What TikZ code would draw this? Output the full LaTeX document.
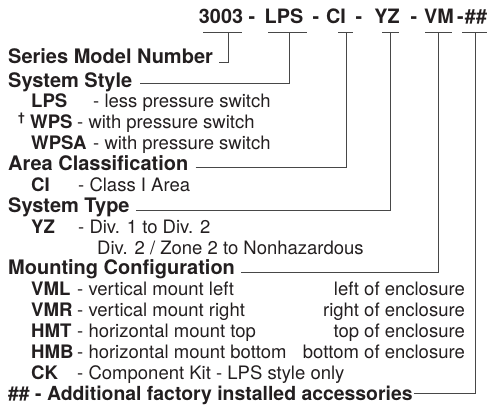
\documentclass[tikz,border=0pt]{standalone}
\usepackage{fontspec}
\setmainfont{TeX Gyre Heros}
\usetikzlibrary{calc}
\definecolor{ink}{HTML}{231F20}
\begin{document}
\begin{tikzpicture}[x=1pt,y=-1pt,
  hd/.style={anchor=base west,inner sep=0pt,text=ink,font=\fontsize{20}{22}\selectfont\bfseries},
  cd/.style={anchor=base west,inner sep=0pt,text=ink,font=\fontsize{18.6}{22}\selectfont\bfseries},
  ds/.style={anchor=base west,inner sep=0pt,text=ink,font=\fontsize{18.5}{22}\selectfont},
  rt/.style={anchor=base east,inner sep=0pt,text=ink,font=\fontsize{18.5}{22}\selectfont},
  topc/.style={anchor=base,inner sep=0pt,text=ink,font=\fontsize{19.8}{22}\selectfont\bfseries},
  conn/.style={draw=black!72,line width=0.9pt}]
\useasboundingbox (0,0) rectangle (487,407);

% top code line
\node[topc] (c3003) at (221,23) {3003};
\node[topc] (d1) at (252,23) {-};
\node[topc] (cLPS) at (284,23) {LPS};
\node[topc] (d2) at (316,23) {-};
\node[topc] (cCI) at (336,23) {CI};
\node[topc] (d3) at (359,23) {-};
\node[topc] (cYZ) at (387,23) {YZ};
\node[topc] (d4) at (414,23) {-};
\node[topc] (cVM) at (439,23) {VM};
\node[topc] (d5) at (460.5,23) {-};
\node[topc] (cHH) at (476,23) {\#\#};

% stem points
\coordinate (s3003) at (228,32);
\coordinate (sLPS) at (289,32);
\coordinate (sCI) at (346,32);
\coordinate (sYZ) at (390,32);
\coordinate (sVM) at (438,32);
\coordinate (sHH) at (475,32);

% underlines
\draw[conn] ($(s3003)+(-25,0)$) -- ($(s3003)+(14,0)$);
\draw[conn] ($(sLPS)+(-21,0)$) -- ($(sLPS)+(18,0)$);
\draw[conn] ($(sCI)+(-8,0)$) -- ($(sCI)+(7,0)$);
\draw[conn] ($(sYZ)+(-8,0)$) -- ($(sYZ)+(9,0)$);
\draw[conn] ($(sVM)+(-13,0)$) -- ($(sVM)+(14,0)$);
\draw[conn] ($(sHH)+(-13,0)$) -- ($(sHH)+(12,0)$);

% headings
\node[hd] (hSeries) at (8,63) {Series Model Number};
\node[hd] (hStyle) at (8,87) {System Style};
\node[hd] (hArea) at (8,170.5) {Area Classification};
\node[hd] (hType) at (8,212.2) {System Type};
\node[hd] (hMount) at (8,274.8) {Mounting Configuration};
\node[hd,font=\fontsize{19.4}{22}\selectfont\bfseries] (hAcc) at (8,400) {\#\# - Additional factory installed accessories};

% system style items
\node[cd] (kLPS) at (31,107.9) {LPS};
\node[ds] (tLPS) at (93,107.9) {- less pressure switch};
\node[anchor=base west,inner sep=0pt,text=ink,font=\fontsize{12}{14}\selectfont\bfseries] (dag) at (18,121) {†};
\node[cd] (kWPS) at (30,128.7) {WPS};
\node[ds] (tWPS) at (77,128.7) {- with pressure switch};
\node[cd] (kWPSA) at (31,149.6) {WPSA};
\node[ds] (tWPSA) at (93,149.6) {- with pressure switch};

% area
\node[cd] (kCI) at (31,191.4) {CI};
\node[ds] (tCI) at (78,191.4) {- Class I Area};

% system type
\node[cd] (kYZ) at (31,233.1) {YZ};
\node[ds] (tYZ) at (78,233.1) {- Div. 1 to Div. 2};
\node[ds] (tYZb) at (97,254) {Div. 2 / Zone 2 to Nonhazardous};

% mounting
\node[cd] (kVML) at (31,295.7) {VML};
\node[ds] (tVML) at (77,295.7) {- vertical mount left};
\node[rt] (rVML) at (465,295.7) {left of enclosure};
\node[cd] (kVMR) at (31,316.6) {VMR};
\node[ds] (tVMR) at (77,316.6) {- vertical mount right};
\node[rt] (rVMR) at (465,316.6) {right of enclosure};
\node[cd] (kHMT) at (31,337.4) {HMT};
\node[ds] (tHMT) at (77,337.4) {- horizontal mount top};
\node[rt] (rHMT) at (465,337.4) {top of enclosure};
\node[cd] (kHMB) at (31,358.3) {HMB};
\node[ds] (tHMB) at (77,358.3) {- horizontal mount bottom};
\node[rt] (rHMB) at (465,358.3) {bottom of enclosure};
\node[cd] (kCK) at (31,379.2) {CK};
\node[ds] (tCK) at (77,379.2) {- Component Kit - LPS style only};

% connectors
\draw[conn] ($(hSeries.base east)+(6,-1)$) -| (s3003);
\draw[conn] ($(hStyle.base east)+(8,-4)$) -| (sLPS);
\draw[conn] ($(hArea.base east)+(7,-3.5)$) -| (sCI);
\draw[conn] ($(hType.base east)+(6,-2)$) -| (sYZ);
\draw[conn] ($(hMount.base east)+(6,-2)$) -| (sVM);
\draw[conn] ($(hAcc.base east)+(1,-6.5)$) -| (sHH);
\end{tikzpicture}
\end{document}
